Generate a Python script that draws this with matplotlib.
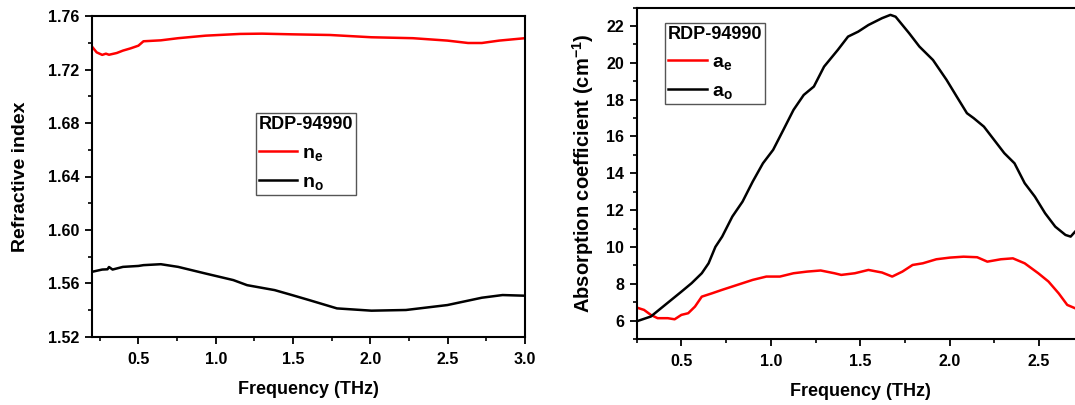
import matplotlib
matplotlib.use("Agg")
import matplotlib.pyplot as plt
from matplotlib.ticker import MultipleLocator

plt.rcParams['font.family'] = ['Liberation Sans', 'DejaVu Sans']
plt.rcParams['font.weight'] = 'bold'
plt.rcParams['mathtext.fontset'] = 'custom'
plt.rcParams['mathtext.rm'] = 'Liberation Sans:bold'
plt.rcParams['mathtext.it'] = 'Liberation Sans:bold'
plt.rcParams['mathtext.bf'] = 'Liberation Sans:bold'

# ---- Left panel data: refractive index ----
freq_ne = [0.20, 0.23, 0.266, 0.29, 0.31, 0.333, 0.36, 0.40, 0.45, 0.50, 0.533, 0.645,
           0.757, 0.935, 1.158, 1.30, 1.493, 1.739, 2.007, 2.275, 2.498, 2.632, 2.721, 2.833, 3.0]
n_e = [1.7373, 1.7330, 1.7311, 1.7320, 1.7312, 1.7318, 1.7325, 1.7343, 1.7360, 1.7380, 1.7413, 1.7420,
       1.7436, 1.7455, 1.7468, 1.7470, 1.7465, 1.7460, 1.7443, 1.7436, 1.7418, 1.7400, 1.7400, 1.7418, 1.7436]

freq_no = [0.20, 0.266, 0.30, 0.31, 0.333, 0.40, 0.50, 0.533, 0.645, 0.757, 0.935, 1.114,
           1.203, 1.381, 1.493, 1.605, 1.784, 2.007, 2.230, 2.498, 2.721, 2.855, 3.0]
n_o = [1.5686, 1.5703, 1.5705, 1.5722, 1.5703, 1.5723, 1.5730, 1.5736, 1.5743, 1.5723, 1.5673, 1.5624,
       1.5586, 1.5549, 1.5512, 1.5474, 1.5412, 1.5395, 1.5400, 1.5437, 1.5492, 1.5512, 1.5507]

# ---- Right panel data: absorption coefficient ----
freq_ao = [0.262, 0.329, 0.386, 0.443, 0.50, 0.557, 0.614, 0.652, 0.690, 0.728, 0.785, 0.842,
           0.899, 0.956, 1.013, 1.070, 1.127, 1.184, 1.241, 1.298, 1.375, 1.432, 1.489, 1.546,
           1.622, 1.669, 1.698, 1.774, 1.831, 1.907, 1.983, 2.040, 2.097, 2.135, 2.192, 2.249,
           2.306, 2.363, 2.420, 2.477, 2.534, 2.591, 2.648, 2.677, 2.702]
a_o = [6.00, 6.22, 6.67, 7.12, 7.57, 8.03, 8.57, 9.11, 10.00, 10.56, 11.65, 12.46,
       13.55, 14.54, 15.27, 16.35, 17.44, 18.25, 18.71, 19.79, 20.70, 21.42, 21.69, 22.05,
       22.42, 22.60, 22.50, 21.60, 20.88, 20.15, 19.07, 18.16, 17.26, 16.99, 16.53, 15.81,
       15.09, 14.54, 13.46, 12.73, 11.83, 11.10, 10.65, 10.56, 10.83]

freq_ae = [0.262, 0.291, 0.329, 0.367, 0.424, 0.462, 0.50, 0.538, 0.576, 0.614, 0.671, 0.728,
           0.785, 0.842, 0.899, 0.975, 1.051, 1.127, 1.203, 1.279, 1.356, 1.394, 1.470, 1.546,
           1.622, 1.679, 1.736, 1.793, 1.850, 1.926, 2.002, 2.078, 2.154, 2.211, 2.287, 2.354,
           2.420, 2.496, 2.553, 2.610, 2.658, 2.702]
a_e = [6.67, 6.58, 6.31, 6.13, 6.13, 6.07, 6.31, 6.40, 6.76, 7.30, 7.48, 7.67,
       7.85, 8.03, 8.21, 8.39, 8.39, 8.57, 8.66, 8.72, 8.57, 8.48, 8.57, 8.75,
       8.61, 8.39, 8.66, 9.02, 9.11, 9.33, 9.42, 9.47, 9.44, 9.20, 9.33, 9.38,
       9.11, 8.57, 8.12, 7.48, 6.85, 6.67]

left_yticks = [1.52, 1.56, 1.60, 1.64, 1.68, 1.72, 1.76]
right_yticks = [6, 8, 10, 12, 14, 16, 18, 20, 22]

fig = plt.figure(figsize=(10.75, 4.05), dpi=100)
ax1 = fig.add_axes([92/1075, 1-336.7/405, 433/1075, 320.4/405])
ax2 = fig.add_axes([636.7/1075, 1-339/405, 447/1075, 331.5/405])

RED = '#ff0000'
BLACK = '#000000'

ax1.plot(freq_ne, n_e, color=RED, lw=1.8, label=r'$\mathregular{n_e}$')
ax1.plot(freq_no, n_o, color=BLACK, lw=1.8, label=r'$\mathregular{n_o}$')
ax1.set_xlim(0.2, 3.0)
ax1.set_ylim(1.52, 1.76)
ax1.set_yticks(left_yticks)
ax1.yaxis.set_major_formatter(matplotlib.ticker.FormatStrFormatter('%.2f'))
ax1.xaxis.set_major_locator(MultipleLocator(0.5))
ax1.xaxis.set_minor_locator(MultipleLocator(0.25))
ax1.yaxis.set_minor_locator(MultipleLocator(0.02))
ax1.set_xlabel('Frequency (THz)', fontsize=13, fontweight='bold', labelpad=10)
ax1.set_ylabel('Refractive index', fontsize=14, fontweight='bold', labelpad=14)

ax2.plot(freq_ae, a_e, color=RED, lw=1.8, label=r'$\mathregular{a_e}$')
ax2.plot(freq_ao, a_o, color=BLACK, lw=1.8, label=r'$\mathregular{a_o}$')
ax2.set_xlim(0.25, 2.75)
ax2.set_ylim(5, 23)
ax2.set_yticks(right_yticks)
ax2.xaxis.set_major_locator(MultipleLocator(0.5))
ax2.xaxis.set_minor_locator(MultipleLocator(0.25))
ax2.yaxis.set_minor_locator(MultipleLocator(1))
ax2.set_xlabel('Frequency (THz)', fontsize=13, fontweight='bold', labelpad=10)
ax2.set_ylabel(r'Absorption coefficient (cm$^{\mathregular{-1}}$)', fontsize=14.5, fontweight='bold', labelpad=7)

for ax in (ax1, ax2):
    for s in ax.spines.values():
        s.set_linewidth(1.5)
    ax.tick_params(which='major', direction='out', length=5, width=1.3, labelsize=11.5, pad=4)
    ax.tick_params(which='minor', direction='out', length=3, width=1.2)
    ax.tick_params(axis='x', which='major', pad=6)
    for lab in ax.get_xticklabels() + ax.get_yticklabels():
        lab.set_fontweight('bold')

for ax, anchor in ((ax1, (0.378, 0.697)), (ax2, (0.0633, 0.954))):
    leg = ax.legend(loc='upper left', bbox_to_anchor=anchor, borderaxespad=0,
                    title='RDP-94990', title_fontproperties={'weight': 'bold', 'size': 13},
                    fontsize=14, fancybox=False, edgecolor='#555555', framealpha=1,
                    handlelength=2.0, handletextpad=0.25, borderpad=0.15,
                    labelspacing=0.55, alignment='left')
    leg.get_frame().set_linewidth(1.0)

fig.savefig('out.png', dpi=100)
